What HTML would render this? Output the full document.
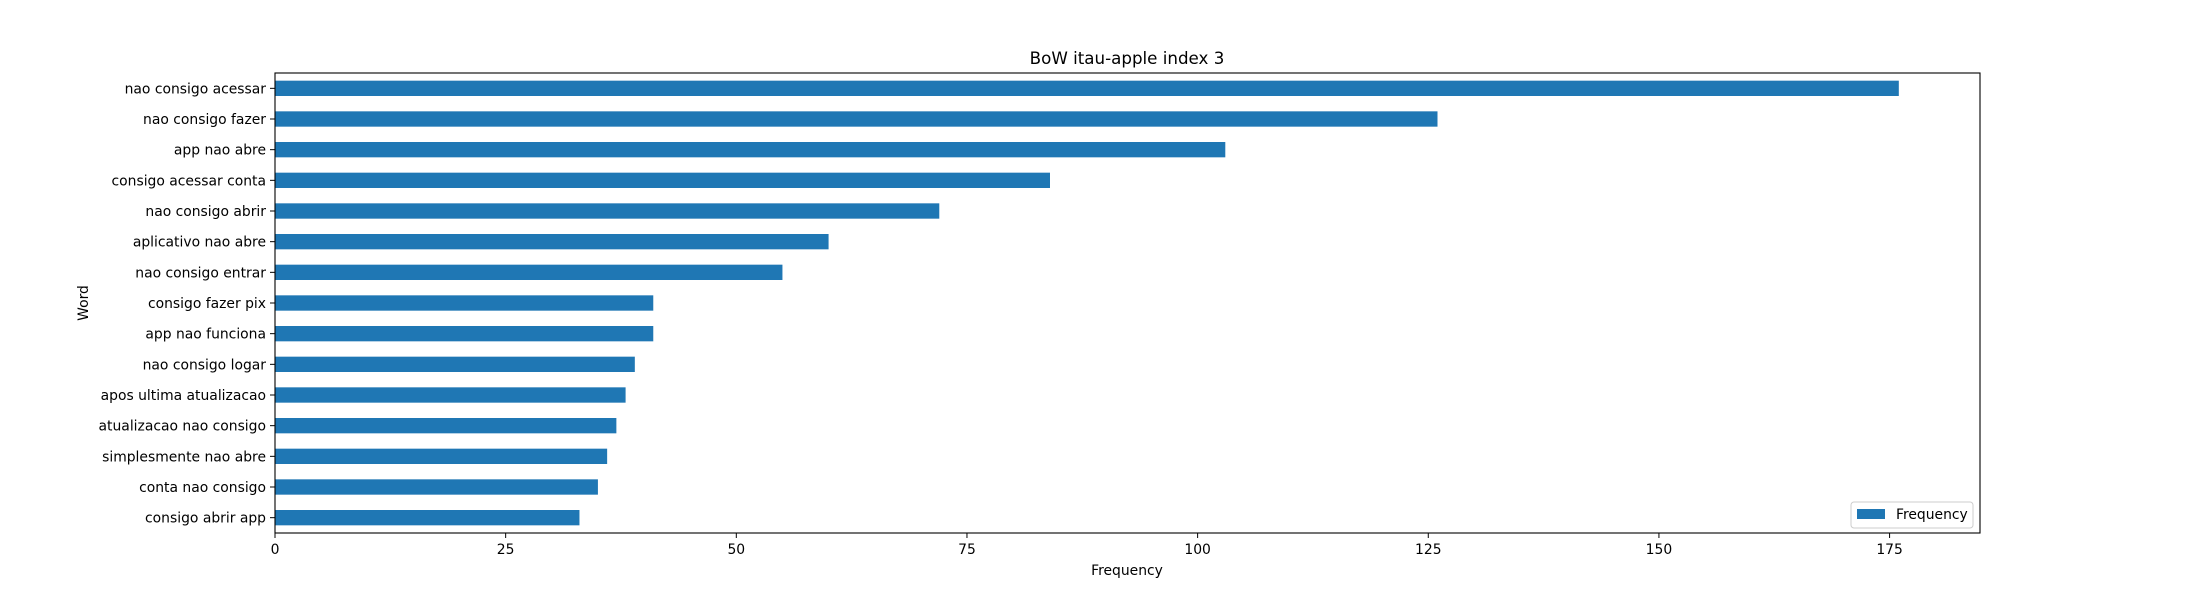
<!DOCTYPE html>
<html><head><meta charset="utf-8"><style>
body{margin:0;background:#fff}
svg text{font-family:"DejaVu Sans","Liberation Sans",sans-serif;fill:#000}
</style></head><body>
<svg id="chart" width="2200" height="600">
<text x="1127" y="64" font-size="16.7" text-anchor="middle">BoW itau-apple index 3</text>
<g id="bars"></g>
<g id="yticks"></g>
<g id="xticks"></g>
<rect x="275" y="73" width="1705" height="460" fill="none" stroke="#000" stroke-width="1.1"/>
<text x="1127" y="575" font-size="13.9" text-anchor="middle">Frequency</text>
<text transform="translate(88,303) rotate(-90)" font-size="13.9" text-anchor="middle">Word</text>
<g>
<rect x="1851" y="502" width="122" height="26" rx="3" fill="#fff" stroke="#ccc" stroke-width="1"/>
<rect x="1857" y="509" width="28" height="10" fill="#1f77b4"/>
<text x="1896" y="519" font-size="13.9">Frequency</text>
</g>
</svg>
<script>
const categories=["nao consigo acessar","nao consigo fazer","app nao abre","consigo acessar conta","nao consigo abrir","aplicativo nao abre","nao consigo entrar","consigo fazer pix","app nao funciona","nao consigo logar","apos ultima atualizacao","atualizacao nao consigo","simplesmente nao abre","conta nao consigo","consigo abrir app"];
const values=[176,126,103,84,72,60,55,41,41,39,38,37,36,35,33];
const xTicks=[0,25,50,75,100,125,150,175];
const NS="http://www.w3.org/2000/svg";
const L=275,R=1980,T=73,B=533;
const xMax=Math.max(...values)*1.05;
const x=v=>L+v/xMax*(R-L);
const band=(B-T)/categories.length;
const yc=i=>T+band*(i+0.5);
const gb=document.getElementById('bars'),gy=document.getElementById('yticks'),gx=document.getElementById('xticks');
function mk(tag,a){const e=document.createElementNS(NS,tag);for(const k in a)e.setAttribute(k,a[k]);return e;}
categories.forEach((c,i)=>{
 const r=mk('rect',{x:L,y:yc(i)-band/4,width:x(values[i])-L,height:band/2,fill:'#1f77b4'});
 
 
 gb.appendChild(r);
 const t=mk('line',{x1:L-5,x2:L,y1:yc(i),y2:yc(i),stroke:'#000'});
 
 
 gy.appendChild(t);
 const tx=mk('text',{x:L-9,y:yc(i)+5,'font-size':13.9,'text-anchor':'end'});
 tx.textContent=c;
 
 
 gy.appendChild(tx);
});
xTicks.forEach(v=>{
 const t=mk('line',{x1:x(v),x2:x(v),y1:B,y2:B+5,stroke:'#000'});
 
 
 gx.appendChild(t);
 const tx=mk('text',{x:x(v),y:B+21,'font-size':13.9,'text-anchor':'middle'});
 tx.textContent=v;
 
 
 gx.appendChild(tx);
});
</script>
</body></html>
